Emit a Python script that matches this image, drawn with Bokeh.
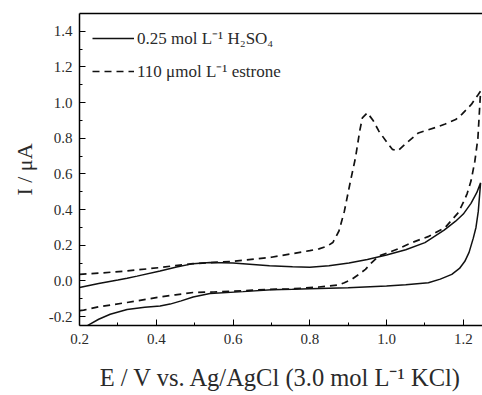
from bokeh.plotting import figure
from bokeh.models import Range1d, Legend, LegendItem, FixedTicker, LinearAxis
from bokeh.embed import file_html
from bokeh.resources import INLINE

# ---- data ----
# 0.25 mol/L H2SO4 blank CV : forward scan then reverse scan
blank_fwd_x = [0.2, 0.25, 0.3, 0.324, 0.35, 0.41, 0.453, 0.496, 0.54, 0.6, 0.626, 0.695, 0.755, 0.8, 0.85,
               0.902, 0.95, 1.0, 1.05, 1.1, 1.15, 1.18, 1.2, 1.22, 1.235, 1.245]
blank_fwd_y = [-0.037, -0.015, 0.005, 0.015, 0.027, 0.056, 0.078, 0.097, 0.103, 0.1, 0.097, 0.085, 0.08, 0.077, 0.085,
               0.1, 0.12, 0.145, 0.175, 0.215, 0.285, 0.335, 0.375, 0.435, 0.495, 0.55]
blank_rev_x = [1.245, 1.242, 1.239, 1.233, 1.226, 1.215, 1.204, 1.19, 1.17, 1.14, 1.109, 1.05, 1.0, 0.9, 0.8,
               0.755, 0.7, 0.626, 0.54, 0.496, 0.465, 0.436, 0.41, 0.37, 0.324, 0.28, 0.25, 0.224, 0.2]
blank_rev_y = [0.55, 0.47, 0.39, 0.30, 0.24, 0.16, 0.11, 0.07, 0.037, 0.01, -0.01, -0.022, -0.028, -0.038, -0.044,
               -0.047, -0.05, -0.06, -0.071, -0.09, -0.112, -0.13, -0.14, -0.148, -0.16, -0.187, -0.215, -0.246, -0.28]

# 110 umol/L estrone CV : forward scan then reverse scan
estr_fwd_x = [0.2, 0.26, 0.324, 0.41, 0.45, 0.496, 0.55, 0.6, 0.7, 0.755, 0.8, 0.824, 0.845, 0.86, 0.876,
              0.89, 0.906, 0.919, 0.93, 0.937, 0.95, 0.965, 0.98, 1.0, 1.015, 1.03, 1.05, 1.083, 1.127,
              1.153, 1.18, 1.196, 1.221, 1.239, 1.245]
estr_fwd_y = [0.037, 0.045, 0.056, 0.075, 0.086, 0.097, 0.104, 0.11, 0.133, 0.153, 0.17, 0.18, 0.195, 0.215, 0.28,
              0.39, 0.56, 0.69, 0.84, 0.915, 0.943, 0.9, 0.84, 0.78, 0.738, 0.73, 0.77, 0.83, 0.86,
              0.88, 0.905, 0.934, 0.99, 1.046, 1.065]
estr_rev_x = [1.245, 1.242, 1.238, 1.23, 1.22, 1.21, 1.2, 1.187, 1.153, 1.11, 1.066, 1.03, 1.0, 0.98, 0.96,
              0.945, 0.93, 0.91, 0.89, 0.876, 0.824, 0.75, 0.695, 0.6, 0.55, 0.496, 0.45, 0.41, 0.324, 0.25, 0.211, 0.2]
estr_rev_y = [1.065, 0.95, 0.80, 0.67, 0.56, 0.49, 0.44, 0.383, 0.30, 0.25, 0.215, 0.18, 0.155, 0.14, 0.10,
              0.065, 0.04, 0.01, -0.01, -0.022, -0.034, -0.045, -0.047, -0.058, -0.062, -0.065, -0.078, -0.09, -0.121, -0.145, -0.164, -0.167]

x_ticks = [0.2, 0.4, 0.6, 0.8, 1.0, 1.2]
x_tick_labels = ["0.2", "0.4", "0.6", "0.8", "1.0", "1.2"]
x_minor = [0.3, 0.5, 0.7, 0.9, 1.1]
y_ticks = [-0.2, 0.0, 0.2, 0.4, 0.6, 0.8, 1.0, 1.2, 1.4]
y_tick_labels = ["-0.2", "0.0", "0.2", "0.4", "0.6", "0.8", "1.0", "1.2", "1.4"]
y_minor = [-0.1, 0.1, 0.3, 0.5, 0.7, 0.9, 1.1, 1.3]

legend_labels = ["0.25 mol L\u207b\u00b9 H\u2082SO\u2084", "110 \u03bcmol L\u207b\u00b9 estrone"]
x_label = "E / V vs. Ag/AgCl (3.0 mol L\u207b\u00b9 KCl)"
y_label = "I / \u03bcA"

FONT = "Liberation Serif"
TXT = "#2a2a2a"

p = figure(width=482, height=395, output_backend="svg", toolbar_location=None,
           x_range=Range1d(0.2, 1.25), y_range=Range1d(-0.25, 1.5),
           min_border_left=79, min_border_right=0, min_border_top=13, min_border_bottom=70)
p.grid.visible = False
p.outline_line_color = None
p.background_fill_color = "white"
p.border_fill_color = "white"

r1 = p.line(blank_fwd_x + blank_rev_x, blank_fwd_y + blank_rev_y,
            line_color="#111111", line_width=1.5)
r2 = p.line(estr_fwd_x + estr_rev_x, estr_fwd_y + estr_rev_y,
            line_color="#111111", line_width=1.7, line_dash="7 5")

for ax, ticks, minor, labels in [(p.xaxis[0], x_ticks, x_minor, x_tick_labels),
                                 (p.yaxis[0], y_ticks, y_minor, y_tick_labels)]:
    ax.ticker = FixedTicker(ticks=ticks, minor_ticks=minor)
    ax.major_label_overrides = {t: l for t, l in zip(ticks, labels)}
    ax.major_tick_in = 6
    ax.major_tick_out = 0
    ax.minor_tick_in = 3
    ax.minor_tick_out = 0
    ax.axis_line_width = 1.5
    ax.axis_line_color = "black"
    ax.major_tick_line_color = "black"
    ax.minor_tick_line_color = "black"
    ax.major_label_text_font = FONT
    ax.major_label_text_font_size = "15px"
    ax.major_label_text_color = TXT
    ax.axis_label_text_font = FONT
    ax.axis_label_text_font_style = "normal"
    ax.axis_label_text_color = TXT

p.xaxis.axis_label = x_label
p.xaxis.axis_label_text_font_size = "24.5px"
p.xaxis.major_label_standoff = 8
p.xaxis.axis_label_standoff = 17
p.yaxis.axis_label = y_label
p.yaxis.axis_label_text_font_size = "22px"
p.yaxis.major_label_standoff = 7
p.yaxis.axis_label_standoff = 9

# top frame line only (no right border visible in the reference)
top = LinearAxis(ticker=FixedTicker(ticks=[]), major_tick_in=0, major_tick_out=0,
                 minor_tick_in=0, minor_tick_out=0, major_label_text_font_size="0px",
                 axis_line_width=1.5, axis_line_color="black")
p.add_layout(top, "above")

legend = Legend(items=[LegendItem(label=legend_labels[0], renderers=[r1]),
                       LegendItem(label=legend_labels[1], renderers=[r2])],
                location="top_left", border_line_color=None, background_fill_alpha=0,
                padding=0, margin=13, spacing=10, glyph_width=42, glyph_height=22,
                label_height=22, label_standoff=3, label_text_font=FONT,
                label_text_font_size="17px", label_text_color=TXT)
p.add_layout(legend)

open("out.html", "w").write(file_html(p, INLINE))
